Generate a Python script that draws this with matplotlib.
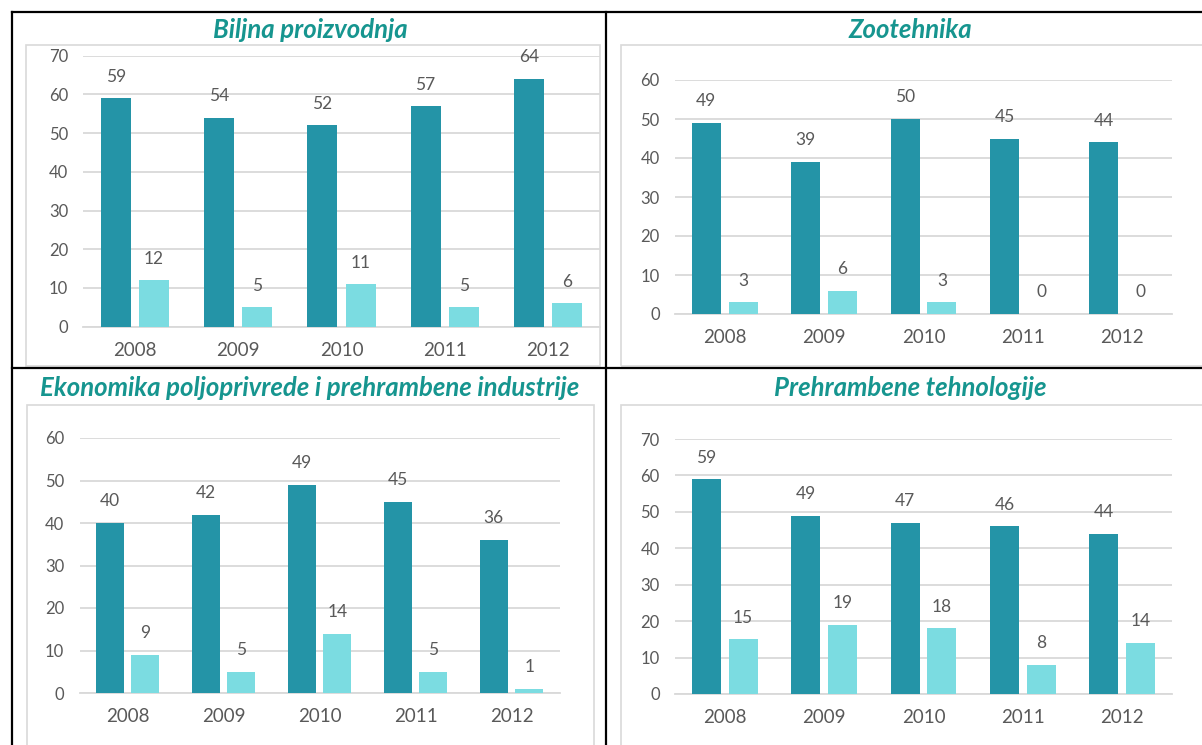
import matplotlib.pyplot as plt
from matplotlib.patches import Rectangle
from matplotlib.lines import Line2D

plt.rcParams['font.family'] = ['Lato', 'DejaVu Sans']

# podaci
years = ['2008', '2009', '2010', '2011', '2012']

biljna_a = [59, 54, 52, 57, 64]
biljna_b = [12, 5, 11, 5, 6]
zoo_a = [49, 39, 50, 45, 44]
zoo_b = [3, 6, 3, 0, 0]
eko_a = [40, 42, 49, 45, 36]
eko_b = [9, 5, 14, 5, 1]
preh_a = [59, 49, 47, 46, 44]
preh_b = [15, 19, 18, 8, 14]

titles = ['Biljna proizvodnja', 'Zootehnika',
          'Ekonomika poljoprivrede i prehrambene industrije',
          'Prehrambene tehnologije']

DARK = '#2494a7'
LIGHT = '#7bdce1'
TITLE_C = '#16958f'
TXT = '#595959'
GRID = '#d9d9d9'

W, H = 1202, 745
fig = plt.figure(figsize=(W / 100, H / 100), dpi=100)


def px_axes(x0, x1, ytop, ybot):
    return fig.add_axes([x0 / W, 1 - ybot / H, (x1 - x0) / W, (ybot - ytop) / H])


def box(x0, y0, x1, y1, color, lw):
    fig.add_artist(Rectangle((x0 / W, 1 - y1 / H), (x1 - x0) / W, (y1 - y0) / H,
                             transform=fig.transFigure, fill=False,
                             edgecolor=color, linewidth=lw, clip_on=False))


def hline(x0, x1, y):
    fig.add_artist(Line2D([x0 / W, x1 / W], [1 - y / H, 1 - y / H], color='black', lw=1.6))


def vline(x, y0, y1):
    fig.add_artist(Line2D([x / W, x / W], [1 - y0 / H, 1 - y1 / H], color='black', lw=1.6))


# okviri grafikona
box(26, 45, 600, 366, GRID, 1.2)
box(621, 45, 1210, 366, GRID, 1.2)
box(27, 405, 594, 760, GRID, 1.2)
box(621, 405, 1210, 760, GRID, 1.2)

# tablica
hline(12, 1202, 12)
hline(12, 1202, 368)
vline(12, 12, 745)
vline(606, 12, 745)

panels = [
    (biljna_a, biljna_b, 70, (83.4, 599.6, 55.7, 326.7), (310, 30)),
    (zoo_a, zoo_b, 60, (675, 1172, 80, 314), (910, 30)),
    (eko_a, eko_b, 60, (79.5, 559.5, 438, 693), (310, 388)),
    (preh_a, preh_b, 70, (675, 1172, 439, 694), (910, 388)),
]

for (a, b, ymax, pos, tpos), title in zip(panels, titles):
    ax = px_axes(*pos)
    x = list(range(len(years)))
    ax.bar([i - 0.185 for i in x], a, width=0.29, color=DARK, zorder=3)
    ax.bar([i + 0.185 for i in x], b, width=0.29, color=LIGHT, zorder=3)
    for i in x:
        ax.annotate(str(a[i]), (i - 0.185, a[i]), xytext=(0, 15.5), textcoords='offset points',
                    ha='center', va='center', fontsize=12.5, color=TXT)
        ax.annotate(str(b[i]), (i + 0.185, b[i]), xytext=(0, 15.5), textcoords='offset points',
                    ha='center', va='center', fontsize=12.5, color=TXT)
    ax.set_xlim(-0.5, 4.5)
    ax.set_ylim(0, ymax)
    ax.set_yticks(range(0, ymax + 1, 10))
    ax.set_xticks(x)
    ax.set_xticklabels(years)
    ax.tick_params(axis='y', length=0, pad=11, labelsize=12, labelcolor=TXT)
    ax.tick_params(axis='x', length=0, pad=11, labelsize=13.5, labelcolor=TXT)
    ax.grid(axis='y', color=GRID, lw=1.3, zorder=0)
    for s in ['top', 'right', 'left']:
        ax.spines[s].set_visible(False)
    ax.spines['bottom'].set_color(GRID)
    ax.spines['bottom'].set_linewidth(1.3)
    ax.set_facecolor('none')
    fig.text(tpos[0] / W, 1 - tpos[1] / H, title, ha='center', va='center',
             fontsize=18.5, fontweight='bold', fontstyle='italic', color=TITLE_C)

fig.savefig('out.png', dpi=100)
